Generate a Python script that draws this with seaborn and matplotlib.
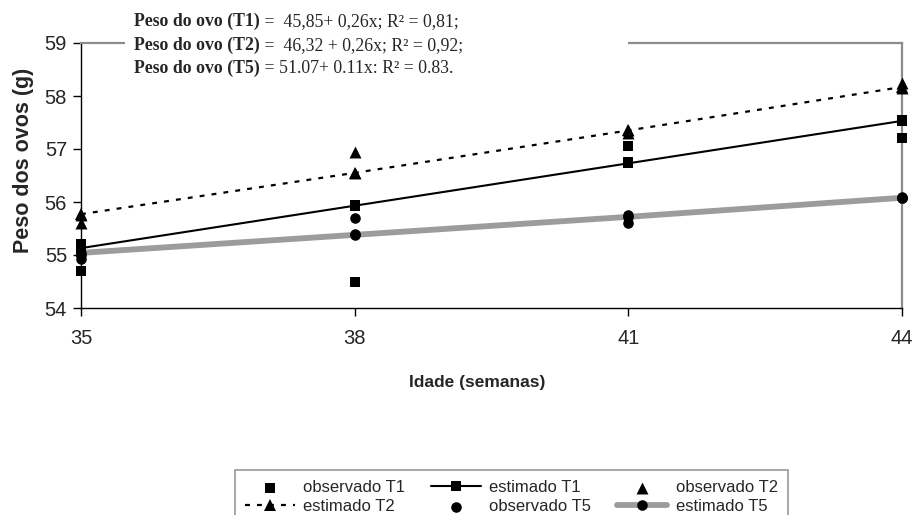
import matplotlib
matplotlib.use("Agg")
import matplotlib.pyplot as plt
import seaborn as sns
import pandas as pd
from matplotlib.patches import Rectangle

# ---------------- data ----------------
ages = [35, 38, 41, 44]
xticks = [35, 38, 41, 44]
yticks = [54, 55, 56, 57, 58, 59]

obs_t1 = [[55.2, 55.05, 54.7], [55.95, 54.5], [57.05, 56.75], [57.55, 57.2]]
obs_t2 = [[55.75, 55.6], [56.95, 56.55], [57.35, 57.3], [58.25, 58.15]]
obs_t5 = [[55.0, 54.93], [55.7, 55.4], [55.75, 55.6], [56.1, 56.08]]

est_t1 = [55.13, 55.93, 56.73, 57.53]
est_t2 = [55.77, 56.55, 57.35, 58.17]
est_t5 = [55.04, 55.38, 55.72, 56.08]

eq_bold = ["Peso do ovo (T1)", "Peso do ovo (T2)", "Peso do ovo (T5)"]
eq_rest = [" =  45,85+ 0,26x; R\u00b2 = 0,81;",
           " =  46,32 + 0,26x; R\u00b2 = 0,92;",
           " = 51.07+ 0.11x: R\u00b2 = 0.83."]

xlabel = "Idade (semanas)"
ylabel = "Peso dos ovos (g)"


def long(obs):
    xs, ys = [], []
    for a, vals in zip(ages, obs):
        for v in vals:
            xs.append(a)
            ys.append(v)
    return pd.DataFrame({"x": xs, "y": ys})


sns.set_style("white")
plt.rcParams["font.family"] = ["Liberation Sans", "DejaVu Sans"]

W, H = 916, 515
fig = plt.figure(figsize=(W / 100, H / 100), dpi=100)
L, R, T, B = 81, 902, 43, 308
ax = fig.add_axes([L / W, 1 - B / H, (R - L) / W, (B - T) / H])

ms = 7.6
# estimated lines
sns.lineplot(x=ages, y=est_t1, ax=ax, color="black", lw=1.5, marker="s",
             markersize=ms, markeredgewidth=0, label="estimado T1", clip_on=False, zorder=3)
sns.lineplot(x=ages, y=est_t2, ax=ax, color="black", lw=1.6, marker="^",
             markersize=ms + 1, markeredgewidth=0, linestyle=(0, (2.2, 3.2)),
             label="estimado T2", clip_on=False, zorder=3)
sns.lineplot(x=ages, y=est_t5, ax=ax, color="#9c9c9c", lw=4.2, marker="o",
             markersize=ms, markerfacecolor="black", markeredgewidth=0,
             label="estimado T5", clip_on=False, zorder=2)

# observed points
d1, d2, d5 = long(obs_t1), long(obs_t2), long(obs_t5)
sns.scatterplot(data=d1, x="x", y="y", ax=ax, marker="s", color="black", s=ms ** 2,
                linewidth=0, label="observado T1", clip_on=False, zorder=4)
sns.scatterplot(data=d2, x="x", y="y", ax=ax, marker="^", color="black", s=(ms + 1) ** 2,
                linewidth=0, label="observado T2", clip_on=False, zorder=4)
sns.scatterplot(data=d5, x="x", y="y", ax=ax, marker="o", color="black", s=ms ** 2,
                linewidth=0, label="observado T5", clip_on=False, zorder=4)

ax.set_xlim(35, 44)
ax.set_ylim(54, 59)
ax.set_xticks(xticks)
ax.set_yticks(yticks)
ax.set_xticklabels([str(t) for t in xticks])
ax.set_yticklabels([str(t) for t in yticks])
ax.tick_params(axis="both", direction="out", length=6, width=1, color="black",
               labelsize=14.5, left=True, bottom=True)
ax.tick_params(axis="x", pad=9)
ax.tick_params(axis="y", pad=4)

for s in ["left", "bottom"]:
    ax.spines[s].set_color("black")
    ax.spines[s].set_linewidth(1.0)
for s in ["top", "right"]:
    ax.spines[s].set_color("#8c8c8c")
    ax.spines[s].set_linewidth(1.6)

ax.set_xlabel(xlabel, fontsize=12.5, fontweight="bold")
ax.set_ylabel(ylabel, fontsize=15.5, fontweight="bold")
ax.xaxis.set_label_coords((477 - L) / (R - L), -(375 - B) / (B - T))
ax.yaxis.set_label_coords(-(L - 34) / (R - L), (B - 160) / (B - T))

# legend (row order: obsT1, estT1, obsT2 / estT2, obsT5, estT5)
handles, labels = ax.get_legend_handles_labels()
hmap = dict(zip(labels, handles))
if ax.get_legend() is not None:
    ax.get_legend().remove()
order = ["observado T1", "estimado T2", "estimado T1", "observado T5",
         "observado T2", "estimado T5"]
leg = fig.legend([hmap[k] for k in order], order, ncol=3,
                 loc="upper left", bbox_to_anchor=(235 / W, 1 - 470 / H),
                 borderaxespad=0, frameon=True, fancybox=False, edgecolor="#808080",
                 fontsize=12, handlelength=3.0, columnspacing=1.55,
                 handletextpad=0.5, borderpad=0.6, labelspacing=0.25)
leg.get_frame().set_linewidth(1.2)

# white box hiding top spine behind equations
fig.patches.append(Rectangle((125 / W, 1 - 80 / H), (628 - 125) / W, 80 / H,
                             transform=fig.transFigure, facecolor="white",
                             edgecolor="none", zorder=5))

fig.canvas.draw()
renderer = fig.canvas.get_renderer()
baselines = [26, 50, 73]
for b, tb, tr in zip(baselines, eq_bold, eq_rest):
    t = fig.text(134 / W, 1 - b / H, tb, fontsize=12.8, fontweight="bold",
                 family="Liberation Serif", va="baseline", ha="left", zorder=6)
    bb = t.get_window_extent(renderer)
    fig.text(bb.x1 / W, 1 - b / H, tr, fontsize=12.8, family="Liberation Serif",
             va="baseline", ha="left", zorder=6)

fig.savefig("out.png", dpi=100)
